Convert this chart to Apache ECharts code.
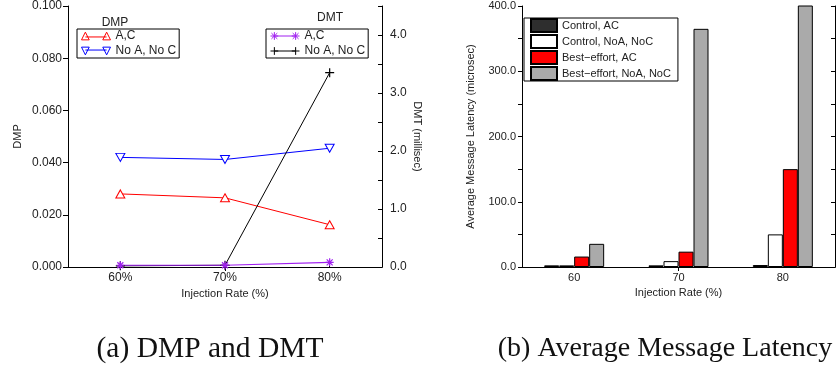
<!DOCTYPE html>
<html><head><meta charset="utf-8">
<script src="https://cdn.jsdelivr.net/npm/echarts@6/dist/echarts.min.js"></script>
<style>html,body{margin:0;padding:0;background:#fff}#c{width:838px;height:366px}</style>
</head><body><div id="c"></div>
<script>
// ---- data ----
var rateCategories = ['60%', '70%', '80%'];
var dmpAC = [0.028, 0.0265, 0.0162];
var dmpNoANoC = [0.042, 0.0412, 0.0455];
var dmtAC = [0.03, 0.03, 0.08];
var dmtNoANoC = [0.02, 0.03, 3.35];

var latCategories = ['60', '70', '80'];
var controlAC = [2.5, 2.5, 3];
var controlNoANoC = [2.5, 9, 50];
var bestAC = [16, 23.5, 150];
var bestNoANoC = [35.5, 365, 460];

var dmpTicks = [0, 0.1, 0.02];
var dmtTicks = [0, 4.5, 0.5];
var latTicks = [0, 400, 50];

var FONT = "'Liberation Sans', Arial, sans-serif";
var TXT = '#222';

var chart = echarts.init(document.getElementById('c'), null, {renderer: 'canvas'});

function strip(n) { return n.replace(/^(DMP|DMT|LAT) /, ''); }

var axisLine = {show: true, lineStyle: {color: '#000', width: 1}};

var option = {
  animation: false,
  backgroundColor: '#fff',
  textStyle: {fontFamily: FONT, color: TXT},
  grid: [
    {left: 68, right: 456, top: 6, bottom: 99},
    {left: 522, right: 3, top: 6, bottom: 99}
  ],
  xAxis: [
    {gridIndex: 0, type: 'category', data: rateCategories, position: 'bottom',
     axisLine: axisLine, axisTick: {show: true, inside: true, length: 4, alignWithLabel: true, lineStyle: {color: '#000'}},
     axisLabel: {fontSize: 12, color: TXT, margin: 5},
     name: 'Injection Rate (%)', nameLocation: 'middle', nameGap: 20,
     nameTextStyle: {fontSize: 11, color: TXT}},
    {gridIndex: 0, type: 'category', data: rateCategories, position: 'top',
     axisLine: axisLine, axisTick: {show: true, inside: true, length: 4, alignWithLabel: true, interval: function (i) { return i === 1; }, lineStyle: {color: '#000'}},
     axisLabel: {show: false}},
    {gridIndex: 1, type: 'category', data: latCategories, position: 'bottom',
     axisLine: axisLine, axisTick: {show: false},
     axisLabel: {fontSize: 11, color: TXT, margin: 5},
     name: 'Injection Rate (%)', nameLocation: 'middle', nameGap: 20,
     nameTextStyle: {fontSize: 11, color: TXT}},
    {gridIndex: 1, type: 'category', data: latCategories, position: 'top',
     axisLine: axisLine, axisTick: {show: true, inside: true, length: 4, alignWithLabel: true, interval: function (i) { return i === 1; }, lineStyle: {color: '#000'}},
     axisLabel: {show: false}}
  ],
  yAxis: [
    {gridIndex: 0, type: 'value', position: 'left', min: dmpTicks[0], max: dmpTicks[1], interval: dmpTicks[2],
     axisLine: axisLine, axisTick: {show: true, length: 5, lineStyle: {color: '#000'}},
     axisLabel: {fontSize: 12, color: TXT, margin: 6, formatter: function (v) { return v.toFixed(3); }},
     splitLine: {show: false},
     name: 'DMP', nameLocation: 'middle', nameRotate: 90, nameGap: 45,
     nameTextStyle: {fontSize: 11, color: TXT}},
    {gridIndex: 0, type: 'value', position: 'right', min: dmtTicks[0], max: dmtTicks[1], interval: dmtTicks[2],
     axisLine: axisLine, axisTick: {show: true, inside: true, length: 4, lineStyle: {color: '#000'}},
     axisLabel: {fontSize: 12, color: TXT, margin: 8, formatter: function (v) { return (Math.abs(v - Math.round(v)) < 1e-6 && v <= 4) ? v.toFixed(1) : ''; }},
     splitLine: {show: false},
     name: 'DMT (millisec)', nameLocation: 'middle', nameRotate: -90, nameGap: 30,
     nameTextStyle: {fontSize: 11, color: TXT}},
    {gridIndex: 1, type: 'value', position: 'left', min: latTicks[0], max: latTicks[1], interval: latTicks[2],
     axisLine: axisLine, axisTick: {show: true, length: 4, lineStyle: {color: '#000'}},
     axisLabel: {fontSize: 11, color: TXT, margin: 6, formatter: function (v) { return v % 100 === 0 ? v.toFixed(1) : ''; }},
     splitLine: {show: false},
     name: 'Average Message Latency (microsec)', nameLocation: 'middle', nameRotate: 90, nameGap: 46,
     nameTextStyle: {fontSize: 11, color: TXT}},
    {gridIndex: 1, type: 'value', position: 'right', min: latTicks[0], max: latTicks[1], interval: latTicks[2],
     axisLine: axisLine, axisTick: {show: true, inside: true, length: 4, lineStyle: {color: '#000'}},
     axisLabel: {show: false}, splitLine: {show: false}}
  ],
  legend: [
    {left: 77, top: 29, orient: 'vertical', itemWidth: 29, itemHeight: 8, itemGap: 1,
     padding: [0, 3, 0, 4], borderColor: '#000', borderWidth: 1, backgroundColor: '#fff',
     textStyle: {fontSize: 12, color: TXT, lineHeight: 14}, formatter: strip, selectedMode: false,
     data: [
       {name: 'DMP A,C', icon: 'path://M0,8L4,0L8,8Z M4,5L26,5 M22,8L26,0L30,8Z',
        itemStyle: {color: '#fff', borderColor: '#ff0000', borderWidth: 1}},
       {name: 'DMP No A, No C', icon: 'path://M0,0L8,0L4,8Z M4,3L26,3 M22,0L30,0L26,8Z',
        itemStyle: {color: '#fff', borderColor: '#0000ff', borderWidth: 1}}
     ]},
    {left: 266, top: 29, orient: 'vertical', itemWidth: 29, itemHeight: 8, itemGap: 1,
     padding: [0, 3, 0, 4], borderColor: '#000', borderWidth: 1, backgroundColor: '#fff',
     textStyle: {fontSize: 12, color: TXT, lineHeight: 14}, formatter: strip, selectedMode: false,
     data: [
       {name: 'DMT A,C', icon: 'path://M4,0L4,8M0,4L8,4M1,1L7,7M1,7L7,1 M4,4L26,4 M26,0L26,8M22,4L30,4M23,1L29,7M23,7L29,1',
        itemStyle: {color: 'rgba(0,0,0,0)', borderColor: '#a020f0', borderWidth: 1}},
       {name: 'DMT No A, No C', icon: 'path://M4,0L4,8M0,4L8,4 M4,4L26,4 M26,0L26,8M22,4L30,4',
        itemStyle: {color: 'rgba(0,0,0,0)', borderColor: '#000', borderWidth: 1}}
     ]},
    {left: 524, top: 18, orient: 'vertical', icon: 'rect', itemWidth: 26, itemHeight: 13, itemGap: 1,
     padding: [0, 7, 0, 6], borderColor: '#000', borderWidth: 1, backgroundColor: '#fff',
     textStyle: {fontSize: 11, color: TXT, lineHeight: 12}, formatter: strip, selectedMode: false,
     data: ['LAT Control, AC', 'LAT Control, NoA, NoC', 'LAT Best\u2212effort, AC', 'LAT Best\u2212effort, NoA, NoC']}
  ],
  graphic: [
    {type: 'text', x: 115, y: 23, style: {text: 'DMP', fontSize: 12, fontFamily: FONT, fill: TXT, textAlign: 'center', textVerticalAlign: 'middle'}},
    {type: 'text', x: 330, y: 18, style: {text: 'DMT', fontSize: 12, fontFamily: FONT, fill: TXT, textAlign: 'center', textVerticalAlign: 'middle'}},
    {type: 'text', x: 210, y: 349, style: {text: '(a) DMP and DMT', fontSize: 29.5, fontFamily: "'Liberation Serif', serif", fill: '#111', textAlign: 'center', textVerticalAlign: 'middle'}},
    {type: 'text', x: 665, y: 349, style: {text: '(b) Average Message Latency', fontSize: 28, fontFamily: "'Liberation Serif', serif", fill: '#111', textAlign: 'center', textVerticalAlign: 'middle'}}
  ],
  series: [
    {name: 'DMP A,C', type: 'line', xAxisIndex: 0, yAxisIndex: 0, data: dmpAC,
     symbol: 'triangle', symbolSize: [9, 8], lineStyle: {color: '#ff0000', width: 1},
     itemStyle: {color: '#fff', borderColor: '#ff0000', borderWidth: 1}},
    {name: 'DMP No A, No C', type: 'line', xAxisIndex: 0, yAxisIndex: 0, data: dmpNoANoC,
     symbol: 'triangle', symbolRotate: 180, symbolSize: [9, 8], lineStyle: {color: '#0000ff', width: 1},
     itemStyle: {color: '#fff', borderColor: '#0000ff', borderWidth: 1}},
    {name: 'DMT No A, No C', type: 'line', xAxisIndex: 0, yAxisIndex: 1, data: dmtNoANoC,
     symbol: 'path://M4,0L4,8M0,4L8,4', symbolSize: 9, lineStyle: {color: '#000', width: 1},
     itemStyle: {color: 'rgba(0,0,0,0)', borderColor: '#000', borderWidth: 1.2}},
    {name: 'DMT A,C', type: 'line', xAxisIndex: 0, yAxisIndex: 1, data: dmtAC,
     symbol: 'path://M4,0L4,8M0,4L8,4M1,1L7,7M1,7L7,1', symbolSize: 8, lineStyle: {color: '#a020f0', width: 1.2},
     itemStyle: {color: 'rgba(0,0,0,0)', borderColor: '#a020f0', borderWidth: 1.2}},
    {name: 'LAT Control, AC', type: 'bar', xAxisIndex: 2, yAxisIndex: 2, data: controlAC,
     barWidth: 15, barGap: '0%', itemStyle: {color: '#2e2e2e', borderColor: '#000', borderWidth: 1}},
    {name: 'LAT Control, NoA, NoC', type: 'bar', xAxisIndex: 2, yAxisIndex: 2, data: controlNoANoC,
     barWidth: 15, barGap: '0%', itemStyle: {color: '#ffffff', borderColor: '#000', borderWidth: 1}},
    {name: 'LAT Best\u2212effort, AC', type: 'bar', xAxisIndex: 2, yAxisIndex: 2, data: bestAC,
     barWidth: 15, barGap: '0%', itemStyle: {color: '#ff0000', borderColor: '#000', borderWidth: 1}},
    {name: 'LAT Best\u2212effort, NoA, NoC', type: 'bar', xAxisIndex: 2, yAxisIndex: 2, data: bestNoANoC,
     barWidth: 15, barGap: '0%', itemStyle: {color: '#aaaaaa', borderColor: '#000', borderWidth: 1}}
  ]
};
chart.setOption(option);
</script>
</body></html>
